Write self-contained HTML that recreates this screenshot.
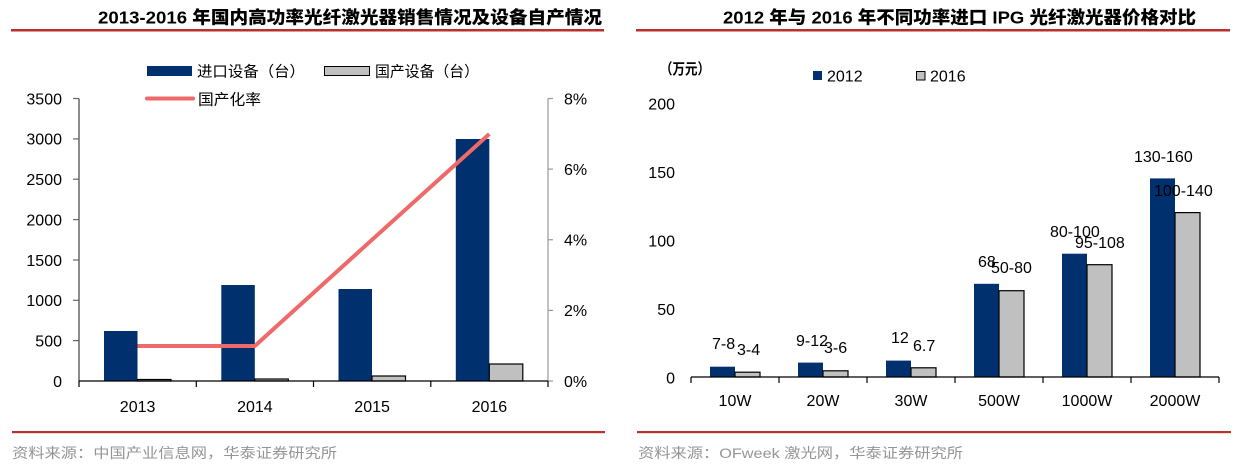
<!DOCTYPE html>
<html><head><meta charset="utf-8"><style>
html,body{margin:0;padding:0;background:#fff;}
svg{display:block;}
text{font-family:"Liberation Sans","Noto Sans CJK SC",sans-serif;}
</style></head><body>
<svg width="1237" height="466" viewBox="0 0 1237 466" xmlns="http://www.w3.org/2000/svg">
<!-- LEFT TITLE -->
<text x="98" y="23.5" font-size="17.5" font-weight="900" fill="#000" textLength="504" lengthAdjust="spacingAndGlyphs">2013-2016 年国内高功率光纤激光器销售情况及设备自产情况</text>
<rect x="11" y="29" width="593" height="2.5" fill="#B8312C"/>
<!-- RIGHT TITLE -->
<text x="723" y="23.5" font-size="17.5" font-weight="900" fill="#000" textLength="473" lengthAdjust="spacingAndGlyphs">2012 年与 2016 年不同功率进口 IPG 光纤激光器价格对比</text>
<rect x="636" y="29" width="594" height="2.5" fill="#B8312C"/>

<!-- LEFT LEGEND -->
<rect x="147" y="66" width="45" height="10" fill="#00306E"/>
<text x="197" y="76.5" font-size="15" fill="#000" textLength="108" lengthAdjust="spacingAndGlyphs">进口设备（台）</text>
<rect x="324.5" y="66.5" width="45" height="9" fill="#C0C0C0" stroke="#000" stroke-width="1"/>
<text x="375" y="76.5" font-size="15" fill="#000" textLength="104" lengthAdjust="spacingAndGlyphs">国产设备（台）</text>
<line x1="147" y1="98.5" x2="193" y2="98.5" stroke="#EE6A6A" stroke-width="4" stroke-linecap="round"/>
<text x="198" y="104.5" font-size="15" fill="#000" textLength="63" lengthAdjust="spacingAndGlyphs">国产化率</text>

<!-- LEFT AXES -->
<line x1="79" y1="98.5" x2="79" y2="381" stroke="#666" stroke-width="1.5"/>
<g stroke="#666" stroke-width="1.2">
<line x1="73" y1="98.5" x2="79" y2="98.5"/>
<line x1="73" y1="138.9" x2="79" y2="138.9"/>
<line x1="73" y1="179.2" x2="79" y2="179.2"/>
<line x1="73" y1="219.6" x2="79" y2="219.6"/>
<line x1="73" y1="260" x2="79" y2="260"/>
<line x1="73" y1="300.3" x2="79" y2="300.3"/>
<line x1="73" y1="340.6" x2="79" y2="340.6"/>
</g>
<g font-size="16" fill="#000" text-anchor="end">
<text x="62" y="104.3">3500</text>
<text x="62" y="144.7">3000</text>
<text x="62" y="185">2500</text>
<text x="62" y="225.4">2000</text>
<text x="62" y="265.8">1500</text>
<text x="62" y="306.1">1000</text>
<text x="62" y="346.4">500</text>
<text x="62" y="386.8">0</text>
</g>
<line x1="548" y1="98.5" x2="548" y2="381" stroke="#999" stroke-width="1.2"/>
<g stroke="#999" stroke-width="1.2">
<line x1="548" y1="98.5" x2="553" y2="98.5"/>
<line x1="548" y1="169.1" x2="553" y2="169.1"/>
<line x1="548" y1="239.75" x2="553" y2="239.75"/>
<line x1="548" y1="310.4" x2="553" y2="310.4"/>
<line x1="548" y1="381" x2="553" y2="381"/>
</g>
<g font-size="16" fill="#000">
<text x="564" y="104.3">8%</text>
<text x="564" y="174.9">6%</text>
<text x="564" y="245.5">4%</text>
<text x="564" y="316.2">2%</text>
<text x="564" y="386.8">0%</text>
</g>

<!-- LEFT BARS -->
<g fill="#00306E">
<rect x="104" y="331" width="33.5" height="50"/>
<rect x="221.3" y="285" width="33.5" height="96"/>
<rect x="338.5" y="289" width="33.5" height="92"/>
<rect x="455.8" y="139" width="33.5" height="242"/>
</g>
<g fill="#C0C0C0" stroke="#000" stroke-width="1.2">
<rect x="137.5" y="379.5" width="33.5" height="1.5"/>
<rect x="254.8" y="379" width="33.5" height="2"/>
<rect x="372" y="376" width="33.5" height="5"/>
<rect x="489.3" y="364" width="33.5" height="17"/>
</g>
<line x1="79" y1="381" x2="548" y2="381" stroke="#000" stroke-width="1.3"/>
<g stroke="#000" stroke-width="1.2">
<line x1="79" y1="381" x2="79" y2="387"/>
<line x1="196.3" y1="381" x2="196.3" y2="387"/>
<line x1="313.5" y1="381" x2="313.5" y2="387"/>
<line x1="430.8" y1="381" x2="430.8" y2="387"/>
<line x1="548" y1="381" x2="548" y2="387"/>
</g>
<polyline points="137.5,346 254.8,346 372,239.8 489.3,134" fill="none" stroke="#EE6A6A" stroke-width="4" stroke-linejoin="round"/>
<g font-size="16" fill="#000" text-anchor="middle">
<text x="137.6" y="412">2013</text>
<text x="254.9" y="412">2014</text>
<text x="372.1" y="412">2015</text>
<text x="489.4" y="412">2016</text>
</g>

<!-- LEFT FOOTER -->
<rect x="12" y="431" width="593" height="2.2" fill="#B8312C"/>
<text x="12" y="458" font-size="14" fill="#959595" textLength="325" lengthAdjust="spacingAndGlyphs">资料来源：中国产业信息网，华泰证券研究所</text>

<!-- RIGHT LEGEND -->
<text x="660" y="74" font-size="15" font-weight="bold" fill="#000" textLength="50" lengthAdjust="spacingAndGlyphs">（万元）</text>
<rect x="813" y="71" width="9" height="9" fill="#00306E"/>
<text x="827" y="81.5" font-size="16" fill="#000">2012</text>
<rect x="916.5" y="71.5" width="8.5" height="8.5" fill="#C0C0C0" stroke="#000" stroke-width="1"/>
<text x="930" y="81.5" font-size="16" fill="#000">2016</text>

<!-- RIGHT Y LABELS -->
<g font-size="16" fill="#000" text-anchor="end">
<text x="675" y="109.3">200</text>
<text x="675" y="177.8">150</text>
<text x="675" y="246.3">100</text>
<text x="675" y="314.8">50</text>
<text x="675" y="383.3">0</text>
</g>

<!-- RIGHT BARS -->
<g fill="#00306E">
<rect x="710" y="366.7" width="25" height="10.3"/>
<rect x="798" y="362.6" width="25" height="14.4"/>
<rect x="886" y="360.6" width="25" height="16.4"/>
<rect x="974" y="283.8" width="25" height="93.2"/>
<rect x="1062" y="253.7" width="25" height="123.3"/>
<rect x="1150" y="178.4" width="25" height="198.6"/>
</g>
<g fill="#C0C0C0" stroke="#000" stroke-width="1.2">
<rect x="735" y="372.2" width="25" height="4.8"/>
<rect x="823" y="370.8" width="25" height="6.2"/>
<rect x="911" y="367.8" width="25" height="9.2"/>
<rect x="999" y="290.7" width="25" height="86.3"/>
<rect x="1087" y="264.7" width="25" height="112.3"/>
<rect x="1175" y="212.6" width="25" height="164.4"/>
</g>
<line x1="691" y1="377" x2="1219" y2="377" stroke="#000" stroke-width="1.3"/>
<g stroke="#000" stroke-width="1.2">
<line x1="691" y1="377" x2="691" y2="383"/>
<line x1="779" y1="377" x2="779" y2="383"/>
<line x1="867" y1="377" x2="867" y2="383"/>
<line x1="955" y1="377" x2="955" y2="383"/>
<line x1="1043" y1="377" x2="1043" y2="383"/>
<line x1="1131" y1="377" x2="1131" y2="383"/>
<line x1="1219" y1="377" x2="1219" y2="383"/>
</g>
<g font-size="16" fill="#000">
<text x="712" y="348.8">7-8</text>
<text x="737" y="354.8">3-4</text>
<text x="796" y="345.8">9-12</text>
<text x="824" y="352.8">3-6</text>
<text x="891" y="342.8">12</text>
<text x="913" y="350.8">6.7</text>
<text x="978" y="266.8">68</text>
<text x="991" y="272.8">50-80</text>
<text x="1050" y="236.8">80-100</text>
<text x="1075" y="247.8">95-108</text>
<text x="1134" y="161.8">130-160</text>
<text x="1154" y="195.8">100-140</text>
</g>
<g font-size="16" fill="#000" text-anchor="middle">
<text x="735" y="406">10W</text>
<text x="823" y="406">20W</text>
<text x="911" y="406">30W</text>
<text x="999" y="406">500W</text>
<text x="1087" y="406">1000W</text>
<text x="1175" y="406">2000W</text>
</g>

<!-- RIGHT FOOTER -->
<rect x="637" y="431" width="594" height="2.2" fill="#B8312C"/>
<text x="638" y="458" font-size="14" fill="#959595" textLength="325" lengthAdjust="spacingAndGlyphs">资料来源：OFweek 激光网，华泰证券研究所</text>
</svg>
</body></html>
